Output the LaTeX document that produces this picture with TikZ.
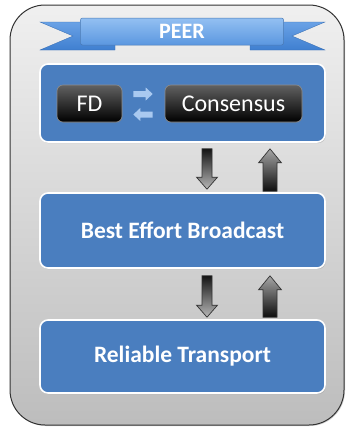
\documentclass[tikz,border=0pt]{standalone}
\usepackage{fontspec}
\setmainfont{Carlito}
\usetikzlibrary{shadows,calc}
\definecolor{boxblue}{HTML}{4A7EBF}
\definecolor{bandtop}{HTML}{93C0F2}
\definecolor{bandbot}{HTML}{5B97E0}
\definecolor{tailtop}{HTML}{6AA2E6}
\definecolor{tailbot}{HTML}{3F7FD0}
\definecolor{smallarrow}{HTML}{A9C9F0}
\begin{document}
\begin{tikzpicture}[x=1pt,y=-1pt,
  outerbox/.style={draw=black!80, line width=1pt, rounded corners=35pt, top color=black!6, bottom color=black!26, minimum width=334pt, minimum height=420pt, inner sep=0pt, drop shadow={opacity=0.35,shadow xshift=1pt,shadow yshift=-1pt}},
  layer/.style={draw=white, line width=1.6pt, fill=boxblue, rounded corners=8pt, minimum width=285pt, inner sep=0pt, text=white, font=\fontsize{23.5}{26}\selectfont\bfseries, drop shadow={opacity=0.35,shadow xshift=0.8pt,shadow yshift=-1.2pt}},
  darkbox/.style={draw=black!45, line width=0.6pt, rounded corners=6pt, top color=black!62, bottom color=black, minimum height=37pt, inner sep=0pt, text=white, font=\fontsize{24}{26}\selectfont, drop shadow={opacity=0.3,shadow xshift=0.6pt,shadow yshift=-0.8pt}},
  band/.style={draw=bandbot!80!black, line width=0.5pt, rounded corners=2pt, top color=bandtop, bottom color=bandbot, minimum width=203pt, minimum height=27pt, inner sep=0pt, text=white, font=\fontsize{22}{24}\selectfont\bfseries},
  tail/.style={top color=tailtop, bottom color=tailbot, draw=tailbot!85!black, line width=0.3pt},
  downarrow/.style={draw=black!80, line width=0.7pt, top color=black!92, bottom color=black!28,
    to path={($(\tikztostart)+(-5,0)$) -- ($(\tikztotarget)+(-5,-12)$) -- ($(\tikztotarget)+(-10.5,-12)$) -- (\tikztotarget) -- ($(\tikztotarget)+(10.5,-12)$) -- ($(\tikztotarget)+(5,-12)$) -- ($(\tikztostart)+(5,0)$) -- cycle}},
  uparrow/.style={draw=black!80, line width=0.7pt, top color=black!35, bottom color=black!95,
    to path={($(\tikztostart)+(-7,0)$) -- ($(\tikztotarget)+(-7,14)$) -- ($(\tikztotarget)+(-11.5,14)$) -- (\tikztotarget) -- ($(\tikztotarget)+(11.5,14)$) -- ($(\tikztotarget)+(7,14)$) -- ($(\tikztostart)+(7,0)$) -- cycle}},
  rightarr/.style={fill=smallarrow,
    to path={($(\tikztostart)+(0,-3)$) -- ($(\tikztotarget)+(-7,-3)$) -- ($(\tikztotarget)+(-7,-6.5)$) -- (\tikztotarget) -- ($(\tikztotarget)+(-7,6.5)$) -- ($(\tikztotarget)+(-7,3)$) -- ($(\tikztostart)+(0,3)$) -- cycle}},
  leftarr/.style={fill=smallarrow,
    to path={($(\tikztostart)+(0,-3)$) -- ($(\tikztotarget)+(7,-3)$) -- ($(\tikztotarget)+(7,-6.5)$) -- (\tikztotarget) -- ($(\tikztotarget)+(7,6.5)$) -- ($(\tikztotarget)+(7,3)$) -- ($(\tikztostart)+(0,3)$) -- cycle}}
]
\useasboundingbox[fill=white] (0,0) rectangle (348,429);

\node[outerbox] (outer) at (177,215) {};

% banner
\path[tail] (40,22) -- (115,22) -- (115,50) -- (40,50) -- (73,36) -- cycle;
\path[tail] (325,22) -- (250,22) -- (250,50) -- (325,50) -- (292,36) -- cycle;
\node[band] (peer) at (182,31.5) {PEER};

% layers
\node[layer, minimum height=78pt] (top) at (182.5,103) {};
\node[layer, minimum height=75pt] (mid) at (182.5,230.5) {Best Effort Broadcast};
\node[layer, minimum height=73pt] (bot) at (182.5,356.5) {Reliable Transport};

\node[darkbox, minimum width=65pt] (fd) at (89.5,103.5) {FD};
\node[darkbox, minimum width=137pt] (cons) at (233.5,103.5) {Consensus};

% small arrows
\coordinate (r1) at ([xshift=11pt,yshift=9.5pt]fd.east);
\coordinate (r2) at ([xshift=-12pt,yshift=9.5pt]cons.west);
\coordinate (l1) at ([xshift=-12pt,yshift=-11pt]cons.west);
\coordinate (l2) at ([xshift=11pt,yshift=-11pt]fd.east);
\path[rightarr] (r1) to (r2);
\path[leftarr] (l1) to (l2);

% block arrows
\coordinate (d1s) at ([xshift=24.5pt,yshift=-6pt]top.south);
\coordinate (d1e) at ([xshift=24.5pt,yshift=3pt]mid.north);
\coordinate (u1s) at ([xshift=87.5pt,yshift=1pt]mid.north);
\coordinate (u1e) at ([xshift=87.5pt,yshift=-6pt]top.south);
\coordinate (d2s) at ([xshift=24.5pt,yshift=-7pt]mid.south);
\coordinate (d2e) at ([xshift=24.5pt,yshift=2pt]bot.north);
\coordinate (u2s) at ([xshift=87.5pt,yshift=2pt]bot.north);
\coordinate (u2e) at ([xshift=87.5pt,yshift=-7pt]mid.south);
\path[downarrow] (d1s) to (d1e);
\path[uparrow] (u1s) to (u1e);
\path[downarrow] (d2s) to (d2e);
\path[uparrow] (u2s) to (u2e);
\end{tikzpicture}
\end{document}
